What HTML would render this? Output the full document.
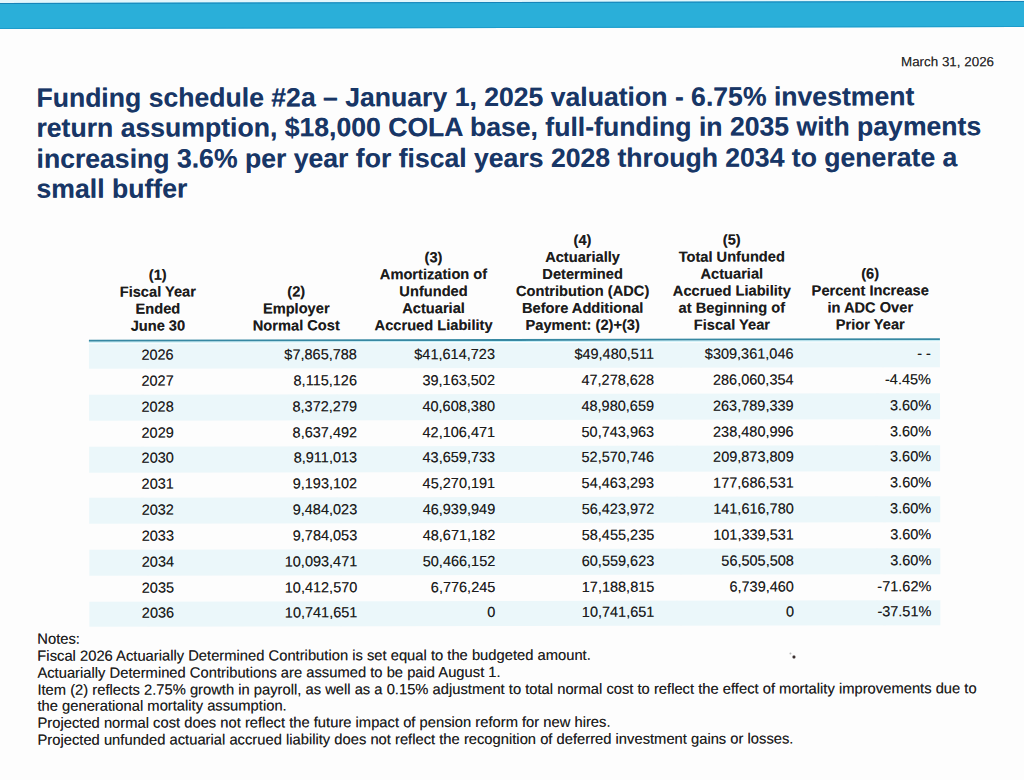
<!DOCTYPE html>
<html><head><meta charset="utf-8"><title>Funding schedule #2a</title>
<style>
html,body{margin:0;padding:0}
body{width:1024px;height:780px;overflow:hidden;position:relative;background:#fdfdfd;font-family:"Liberation Sans",sans-serif;color:#1c1c1c;text-shadow:0 0 0.5px rgba(30,30,30,0.55)}
.a{position:absolute;white-space:nowrap}
.t{font-weight:bold;text-shadow:0 0 0.5px rgba(24,54,102,0.5);color:#183666;font-size:26.6px;line-height:30.2px}
.h{font-weight:bold;font-size:14.65px;line-height:17.0px;text-align:center;width:200px}
.d{font-size:14.5px;line-height:20px;text-align:right;width:160px}
.n{font-size:14.75px;line-height:16.7px}
#w{position:absolute;left:0;top:0;width:1024px;height:780px;transform:rotate(-0.1deg);transform-origin:512px 390px}
</style></head><body><div style="position:absolute;left:0;top:0;width:1024px;height:4px;background:#e6f7fb"></div><div id="w">

<div class="a" style="left:-20px;top:-10px;width:1064px;height:12px;background:#e3f6fb"></div>
<div class="a" style="left:-20px;top:2px;width:1064px;height:26px;background:#2aafd9;border-top:1px solid #1683b8;border-bottom:1px solid #1d9ccb;box-sizing:border-box"></div>
<div class="a" style="right:29.4px;top:54.6px;font-size:13.4px;line-height:16px;color:#2a2a2a">March 31, 2026</div>
<div class="a t" style="left:36.9px;top:82.1px">Funding schedule #2a &#8211; January 1, 2025 valuation - 6.75% investment<br>return assumption, $18,000 COLA base, full-funding in 2035 with payments<br>increasing 3.6% per year for fiscal years 2028 through 2034 to generate a<br>small buffer</div>
<div class="a" style="left:89px;top:342.5px;width:851px;height:25.8px;background:#ebf7fa"></div>
<div class="a" style="left:89px;top:394.1px;width:851px;height:25.8px;background:#ebf7fa"></div>
<div class="a" style="left:89px;top:445.8px;width:851px;height:25.8px;background:#ebf7fa"></div>
<div class="a" style="left:89px;top:497.4px;width:851px;height:25.8px;background:#ebf7fa"></div>
<div class="a" style="left:89px;top:549.1px;width:851px;height:25.8px;background:#ebf7fa"></div>
<div class="a" style="left:89px;top:600.7px;width:851px;height:25.8px;background:#ebf7fa"></div>
<div class="a" style="left:89px;top:339.4px;width:851px;height:2px;background:#3788a2"></div>
<div class="a" style="left:89px;top:341.4px;width:851px;height:1px;background:#c4eff8"></div>
<div class="a h" style="left:58.0px;top:266.3px">(1)<br>Fiscal Year<br>Ended<br>June 30</div>
<div class="a h" style="left:196.4px;top:283.3px">(2)<br>Employer<br>Normal Cost</div>
<div class="a h" style="left:333.7px;top:249.3px">(3)<br>Amortization of<br>Unfunded<br>Actuarial<br>Accrued Liability</div>
<div class="a h" style="left:482.8px;top:232.3px">(4)<br>Actuarially<br>Determined<br>Contribution (ADC)<br>Before Additional<br>Payment: (2)+(3)</div>
<div class="a h" style="left:632.0px;top:232.3px">(5)<br>Total Unfunded<br>Actuarial<br>Accrued Liability<br>at Beginning of<br>Fiscal Year</div>
<div class="a h" style="left:770.4px;top:266.3px">(6)<br>Percent Increase<br>in ADC Over<br>Prior Year</div>
<div class="a d" style="left:77.6px;top:344.1px;text-align:center">2026</div>
<div class="a d" style="left:197.0px;top:344.1px">$7,865,788</div>
<div class="a d" style="left:335.0px;top:344.1px">$41,614,723</div>
<div class="a d" style="left:494.0px;top:344.1px">$49,480,511</div>
<div class="a d" style="left:633.6px;top:344.1px">$309,361,046</div>
<div class="a d" style="left:771.0px;top:344.1px">- -</div>
<div class="a d" style="left:77.6px;top:369.9px;text-align:center">2027</div>
<div class="a d" style="left:197.0px;top:369.9px">8,115,126</div>
<div class="a d" style="left:335.0px;top:369.9px">39,163,502</div>
<div class="a d" style="left:494.0px;top:369.9px">47,278,628</div>
<div class="a d" style="left:633.6px;top:369.9px">286,060,354</div>
<div class="a d" style="left:771.0px;top:369.9px">-4.45%</div>
<div class="a d" style="left:77.6px;top:395.7px;text-align:center">2028</div>
<div class="a d" style="left:197.0px;top:395.7px">8,372,279</div>
<div class="a d" style="left:335.0px;top:395.7px">40,608,380</div>
<div class="a d" style="left:494.0px;top:395.7px">48,980,659</div>
<div class="a d" style="left:633.6px;top:395.7px">263,789,339</div>
<div class="a d" style="left:771.0px;top:395.7px">3.60%</div>
<div class="a d" style="left:77.6px;top:421.5px;text-align:center">2029</div>
<div class="a d" style="left:197.0px;top:421.5px">8,637,492</div>
<div class="a d" style="left:335.0px;top:421.5px">42,106,471</div>
<div class="a d" style="left:494.0px;top:421.5px">50,743,963</div>
<div class="a d" style="left:633.6px;top:421.5px">238,480,996</div>
<div class="a d" style="left:771.0px;top:421.5px">3.60%</div>
<div class="a d" style="left:77.6px;top:447.4px;text-align:center">2030</div>
<div class="a d" style="left:197.0px;top:447.4px">8,911,013</div>
<div class="a d" style="left:335.0px;top:447.4px">43,659,733</div>
<div class="a d" style="left:494.0px;top:447.4px">52,570,746</div>
<div class="a d" style="left:633.6px;top:447.4px">209,873,809</div>
<div class="a d" style="left:771.0px;top:447.4px">3.60%</div>
<div class="a d" style="left:77.6px;top:473.2px;text-align:center">2031</div>
<div class="a d" style="left:197.0px;top:473.2px">9,193,102</div>
<div class="a d" style="left:335.0px;top:473.2px">45,270,191</div>
<div class="a d" style="left:494.0px;top:473.2px">54,463,293</div>
<div class="a d" style="left:633.6px;top:473.2px">177,686,531</div>
<div class="a d" style="left:771.0px;top:473.2px">3.60%</div>
<div class="a d" style="left:77.6px;top:499.0px;text-align:center">2032</div>
<div class="a d" style="left:197.0px;top:499.0px">9,484,023</div>
<div class="a d" style="left:335.0px;top:499.0px">46,939,949</div>
<div class="a d" style="left:494.0px;top:499.0px">56,423,972</div>
<div class="a d" style="left:633.6px;top:499.0px">141,616,780</div>
<div class="a d" style="left:771.0px;top:499.0px">3.60%</div>
<div class="a d" style="left:77.6px;top:524.8px;text-align:center">2033</div>
<div class="a d" style="left:197.0px;top:524.8px">9,784,053</div>
<div class="a d" style="left:335.0px;top:524.8px">48,671,182</div>
<div class="a d" style="left:494.0px;top:524.8px">58,455,235</div>
<div class="a d" style="left:633.6px;top:524.8px">101,339,531</div>
<div class="a d" style="left:771.0px;top:524.8px">3.60%</div>
<div class="a d" style="left:77.6px;top:550.6px;text-align:center">2034</div>
<div class="a d" style="left:197.0px;top:550.6px">10,093,471</div>
<div class="a d" style="left:335.0px;top:550.6px">50,466,152</div>
<div class="a d" style="left:494.0px;top:550.6px">60,559,623</div>
<div class="a d" style="left:633.6px;top:550.6px">56,505,508</div>
<div class="a d" style="left:771.0px;top:550.6px">3.60%</div>
<div class="a d" style="left:77.6px;top:576.5px;text-align:center">2035</div>
<div class="a d" style="left:197.0px;top:576.5px">10,412,570</div>
<div class="a d" style="left:335.0px;top:576.5px">6,776,245</div>
<div class="a d" style="left:494.0px;top:576.5px">17,188,815</div>
<div class="a d" style="left:633.6px;top:576.5px">6,739,460</div>
<div class="a d" style="left:771.0px;top:576.5px">-71.62%</div>
<div class="a d" style="left:77.6px;top:602.3px;text-align:center">2036</div>
<div class="a d" style="left:197.0px;top:602.3px">10,741,651</div>
<div class="a d" style="left:335.0px;top:602.3px">0</div>
<div class="a d" style="left:494.0px;top:602.3px">10,741,651</div>
<div class="a d" style="left:633.6px;top:602.3px">0</div>
<div class="a d" style="left:771.0px;top:602.3px">-37.51%</div>
<div class="a n" style="left:36.9px;top:630.4px">Notes:<br>Fiscal 2026 Actuarially Determined Contribution is set equal to the budgeted amount.<br>Actuarially Determined Contributions are assumed to be paid August 1.<br>Item (2) reflects 2.75% growth in payroll, as well as a 0.15% adjustment to total normal cost to reflect the effect of mortality improvements due to<br>the generational mortality assumption.<br>Projected normal cost does not reflect the future impact of pension reform for new hires.<br>Projected unfunded actuarial accrued liability does not reflect the recognition of deferred investment gains or losses.</div>
<div class="a" style="left:792.3px;top:656.4px;width:2.4px;height:2.4px;border-radius:50%;background:#3a3030"></div>
<div class="a" style="left:788.6px;top:653.3px;width:2px;height:2px;border-radius:50%;background:#b8b8b8"></div>
</div></body></html>
